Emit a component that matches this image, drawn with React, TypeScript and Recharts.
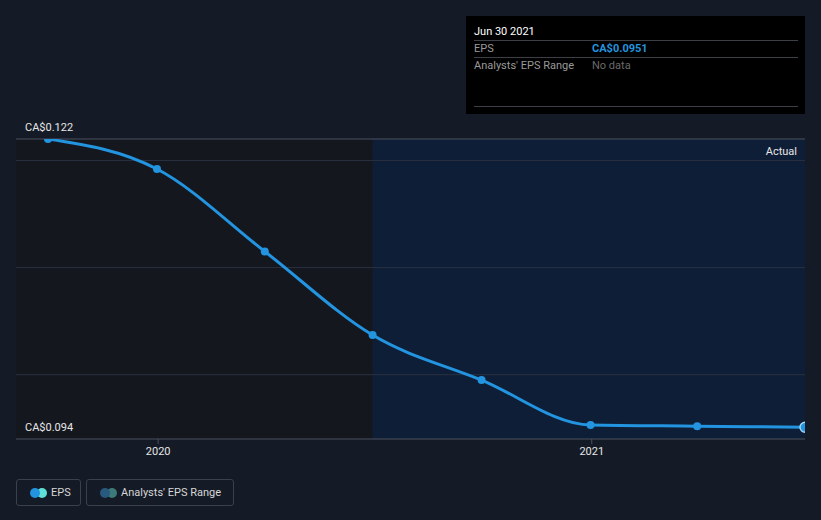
import React from "react";
import {
  ComposedChart,
  Line,
  XAxis,
  YAxis,
  ReferenceArea,
  ReferenceLine,
} from "recharts";

const dates = [
  "2019-09-30",
  "2019-12-31",
  "2020-03-31",
  "2020-06-30",
  "2020-09-30",
  "2020-12-31",
  "2021-03-31",
  "2021-06-30",
];
const epsValues = [0.122, 0.1192, 0.1115, 0.1037, 0.0995, 0.0953, 0.0952, 0.0951];
const xTickDates = ["2020-01-01", "2021-01-01"];
const xTickLabels = ["2020", "2021"];
const yLabelValues = [0.122, 0.094];
const gridValues = [0.12, 0.11, 0.1];
const domainStartDate = "2019-09-03";
const pastEndDate = "2020-06-30";
const domainEndDate = "2021-06-30";

const ts = (d: string) => new Date(d + "T00:00:00Z").getTime();

const data = dates.map((d, i) => ({ t: ts(d), eps: epsValues[i] }));
const xTicks = xTickDates.map(ts);

const FONT = "Roboto, 'Noto Sans', sans-serif";

const W = 821;
const H = 520;

const YLabel = (props: any) => {
  const { viewBox, value } = props;
  return (
    <text
      x={viewBox.x + 9}
      y={viewBox.y - 11}
      fill="#e6e6e6"
      fontSize={11}
      fontFamily={FONT}
      dominantBaseline="middle"
    >
      {value}
    </text>
  );
};

const ActualLabel = (props: any) => {
  const { viewBox } = props;
  return (
    <text
      x={viewBox.x + viewBox.width - 8}
      y={viewBox.y + 13}
      fill="#e6e6e6"
      fontSize={11}
      fontFamily={FONT}
      textAnchor="end"
      dominantBaseline="middle"
    >
      Actual
    </text>
  );
};

const renderDot = (props: any) => {
  const { cx, cy, index } = props;
  if (index === data.length - 1) {
    return (
      <circle key={index} cx={cx} cy={cy} r={5} fill="#2394df" stroke="#9fd3f7" strokeWidth={1.5} />
    );
  }
  return <circle key={index} cx={cx} cy={cy} r={4} fill="#2394df" stroke="none" />;
};

const tickFmt = (v: number) => {
  const i = xTicks.indexOf(v);
  return i >= 0 ? xTickLabels[i] : "";
};

export default function App() {
  return (
    <div
      style={{
        position: "absolute",
        left: 0,
        top: 0,
        width: W,
        height: H,
        background: "#151b26",
        fontFamily: FONT,
        overflow: "hidden",
      }}
    >
      <ComposedChart
        width={W}
        height={H}
        data={data}
        margin={{ top: 139, right: 16, bottom: 51, left: 16 }}
      >
        <XAxis
          dataKey="t"
          type="number"
          scale="time"
          domain={[ts(domainStartDate), ts(domainEndDate)]}
          ticks={xTicks}
          tickFormatter={tickFmt}
          height={30}
          axisLine={{ stroke: "#4a505c", strokeWidth: 1 }}
          tickLine={{ stroke: "#4a505c" }}
          tickSize={5}
          tick={{ fill: "#e6e6e6", fontSize: 11, fontFamily: FONT, dy: 1 }}
          allowDataOverflow
        />
        <YAxis type="number" domain={[0.094, 0.122]} hide allowDataOverflow />
        <ReferenceArea
          x1={ts(domainStartDate)}
          x2={ts(pastEndDate)}
          y1={0.094}
          y2={0.122}
          fill="#14171e"
          fillOpacity={1}
          stroke="none"
          ifOverflow="hidden"
        />
        <ReferenceArea
          x1={ts(pastEndDate)}
          x2={ts(domainEndDate)}
          y1={0.094}
          y2={0.122}
          fill="#0e1e36"
          fillOpacity={1}
          stroke="none"
          ifOverflow="hidden"
          label={<ActualLabel />}
        />
        {gridValues.map((g) => (
          <ReferenceLine key={g} y={g} stroke="#2a3140" strokeWidth={1} />
        ))}
        <ReferenceLine
          y={yLabelValues[0]}
          stroke="#4a505c"
          strokeWidth={1}
          label={<YLabel value={"CA$" + yLabelValues[0]} />}
        />
        <ReferenceLine
          y={yLabelValues[1]}
          stroke="none"
          label={<YLabel value={"CA$" + yLabelValues[1]} />}
        />
        <Line
          type="monotone"
          dataKey="eps"
          stroke="#2394df"
          strokeWidth={3}
          dot={renderDot}
          activeDot={false}
          isAnimationActive={false}
        />
      </ComposedChart>

      {/* tooltip box */}
      <div
        style={{
          position: "absolute",
          left: 466,
          top: 16,
          width: 339,
          height: 98,
          background: "#000000",
          fontSize: 11,
        }}
      >
        <div style={{ position: "absolute", left: 8, top: 9, color: "#ffffff" }}>Jun 30 2021</div>
        <div style={{ position: "absolute", left: 8, right: 7, top: 24, borderTop: "1px solid #3c3f45" }} />
        <div style={{ position: "absolute", left: 8, top: 26, color: "#9a9a9a" }}>EPS</div>
        <div style={{ position: "absolute", left: 126, top: 26, color: "#2394df", fontWeight: 700 }}>
          CA$0.0951
        </div>
        <div style={{ position: "absolute", left: 8, right: 7, top: 41, borderTop: "1px solid #3c3f45" }} />
        <div style={{ position: "absolute", left: 8, top: 43, color: "#9a9a9a" }}>Analysts' EPS Range</div>
        <div style={{ position: "absolute", left: 126, top: 43, color: "#6a6a6a" }}>No data</div>
        <div style={{ position: "absolute", left: 8, right: 7, top: 90, borderTop: "1px solid #3c3f45" }} />
      </div>

      {/* legend */}
      <div
        style={{
          position: "absolute",
          left: 16,
          top: 479,
          width: 65,
          height: 27,
          border: "1px solid #3a404c",
          borderRadius: 3,
          boxSizing: "border-box",
          fontSize: 11,
          color: "#d6d6d6",
        }}
      >
        <svg style={{ position: "absolute", left: 11, top: 8 }} width={20} height={10}>
          <circle cx={14} cy={5} r={5} fill="#5ee0d6" />
          <circle cx={7} cy={5} r={5} fill="#2394df" />
        </svg>
        <div style={{ position: "absolute", left: 34, top: 6 }}>EPS</div>
      </div>
      <div
        style={{
          position: "absolute",
          left: 86,
          top: 479,
          width: 148,
          height: 27,
          border: "1px solid #3a404c",
          borderRadius: 3,
          boxSizing: "border-box",
          fontSize: 11,
          color: "#d6d6d6",
        }}
      >
        <svg style={{ position: "absolute", left: 11, top: 8 }} width={20} height={10}>
          <circle cx={14} cy={5} r={5} fill="#3b7a78" />
          <circle cx={7} cy={5} r={5} fill="#275a7e" />
        </svg>
        <div style={{ position: "absolute", left: 34, top: 6 }}>Analysts' EPS Range</div>
      </div>
    </div>
  );
}
